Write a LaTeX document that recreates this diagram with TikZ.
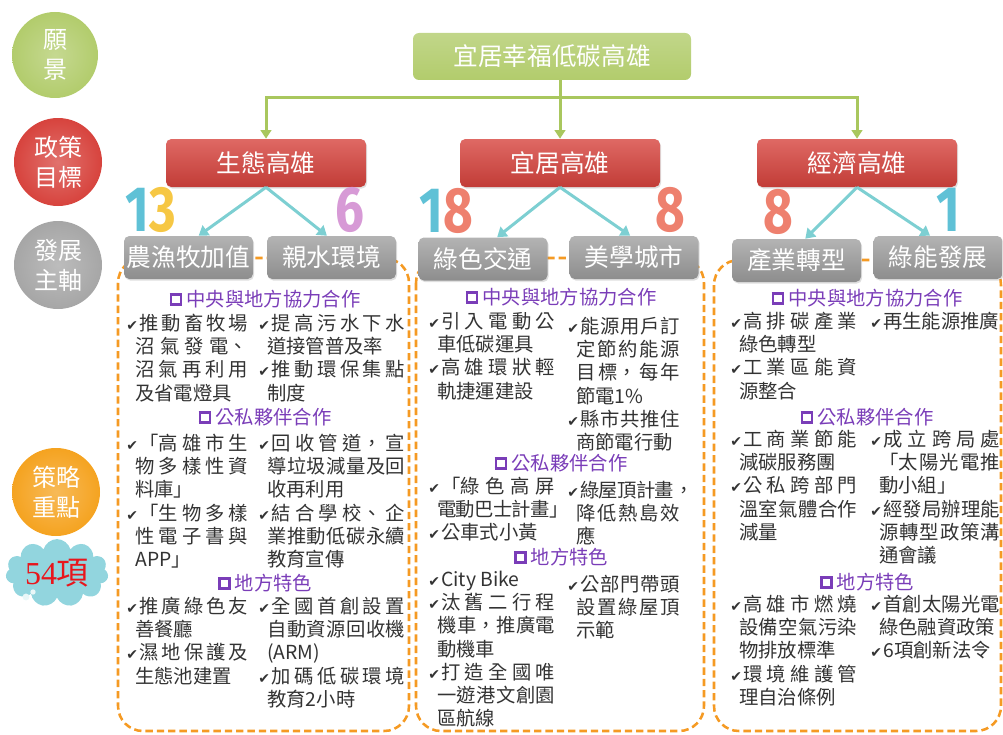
\documentclass[tikz,border=0pt]{standalone}
\usepackage{fontspec}
\usepackage{xcolor}
\setmainfont{Noto Sans CJK TC}
\newfontfamily\symfont{DejaVu Sans}
\newfontfamily\numfont{Fira Sans}[FakeStretch=0.8]
\newfontfamily\cloudfont{Liberation Serif}
\usetikzlibrary{arrows.meta,shadows,shapes.symbols}

\XeTeXlinebreaklocale "zh"
\XeTeXlinebreakskip=0pt plus 4pt minus 0.5pt
\XeTeXlinebreakpenalty=10000

\definecolor{visgreen}{HTML}{B2CC6C}
\definecolor{linegreen}{HTML}{A9C75E}
\definecolor{goalred}{HTML}{D7433D}
\definecolor{axisgray}{HTML}{A6A6A6}
\definecolor{keyorange}{HTML}{F5A320}
\definecolor{dashorange}{HTML}{F59A23}
\definecolor{arrowblue}{HTML}{7DCFD2}
\definecolor{hdpurple}{HTML}{7A3DB8}
\definecolor{bodytext}{HTML}{333333}
\definecolor{cloudblue}{HTML}{92D5DE}
\definecolor{cloudred}{HTML}{E8161C}
\definecolor{numblue}{HTML}{5FC1D6}
\definecolor{numyellow}{HTML}{F6C744}
\definecolor{numpink}{HTML}{D79AD6}
\definecolor{numsalmon}{HTML}{EE806E}

\newcommand\chk{\makebox[9.75pt][l]{\symfont\fontsize{10.5pt}{10.5pt}\selectfont ✔}}
\newcommand\itm{\par\noindent\hangindent=6.75pt\hangafter=1\relax\chk}
\newcommand\sq{\raisebox{2.6pt}{\fboxsep=0pt\fboxrule=2.1pt\fbox{\rule{0pt}{5.4pt}\rule{5.4pt}{0pt}}}\hspace{3pt}}
\newcommand\coltext{\fontsize{14.5pt}{17.4pt}\selectfont}
\newcommand\boxtext{\fontsize{18.5pt}{22pt}\selectfont}

\begin{document}
\begin{tikzpicture}[x=0.75pt, y=-0.75pt,
  rowtag/.style={circle, minimum size=66pt, inner sep=0pt, align=center, text=white,
    font=\fontsize{18pt}{22.5pt}\selectfont, inner color=#1!75!white, outer color=#1},
  visionbox/.style={rounded corners=4.5pt, minimum width=208.5pt, minimum height=35.25pt,
    inner sep=0pt, top color=visgreen!80!white, bottom color=visgreen, text=white, font=\boxtext},
  goalbox/.style={rounded corners=4pt, minimum width=150pt, minimum height=36pt, inner sep=0pt,
    top color=goalred!80!white, bottom color=goalred!90!black, text=white, font=\boxtext,
    drop shadow={opacity=0.25, shadow xshift=0.8pt, shadow yshift=-1.2pt}},
  axisbox/.style={rounded corners=4pt, minimum width=96.75pt, minimum height=32.25pt, inner sep=0pt,
    top color=axisgray!85!white, bottom color=axisgray!85!black, text=white, font=\boxtext,
    drop shadow={opacity=0.25, shadow xshift=0.8pt, shadow yshift=-1.2pt}},
  dashframe/.style={draw=dashorange, line width=1.9pt, dash pattern=on 5.5pt off 3pt,
    rounded corners=18.75pt},
  greenarrow/.style={draw=linegreen, line width=2.25pt, -{Triangle[width=8pt,length=6.5pt]}},
  bluearrow/.style={draw=arrowblue, line width=2.25pt, -{Triangle[width=9pt,length=7pt]}},
  bignum/.style={inner sep=0pt, font=\numfont\bfseries\fontsize{48pt}{48pt}\selectfont},
  colnote/.style={anchor=north west, inner sep=0pt, text width=#1, align=justify,
    font=\coltext, text=bodytext},
  headnote/.style={inner sep=0pt, text=hdpurple, font=\coltext}]
  \useasboundingbox (0,0) rectangle (1003,735);

  % Row tags on the left
  \node[rowtag=visgreen, minimum size=64.5pt] (tagvision) at (55,55) {願\\景};
  \node[rowtag=goalred] (taggoal) at (58,162) {政策\\目標};
  \node[rowtag=axisgray] (tagaxis) at (58,265) {發展\\主軸};
  \node[rowtag=keyorange] (tagkey) at (56,492) {策略\\重點};
  \node[cloud, cloud puffs=11, aspect=1.8, minimum width=77pt, minimum height=43pt,
    fill=cloudblue, inner sep=0pt, text=cloudred,
    font=\fontsize{24pt}{24pt}\selectfont] (tagcount) at (57,573) {{\cloudfont 54}項};
  % little bubbles at the cloud's foot
  \fill[white!80!cloudblue] (26,597) circle (2.6pt);
  \fill[white!80!cloudblue] (33,592) circle (2pt);

  % Dashed frames round each group
  \draw[dashframe] (118,258) rectangle (409,731);
  \draw[dashframe] (416,258) rectangle (704,731);
  \draw[dashframe] (714,260) rectangle (1001,731);

  % Vision and goals
  \node[visionbox] (vision) at (552,56.5) {宜居幸福低碳高雄};
  \node[goalbox] (eco) at (266,163) {生態高雄};
  \node[goalbox] (live) at (560,163) {宜居高雄};
  \node[goalbox] (econ) at (857,163) {經濟高雄};
  \coordinate (hub) at (560,98);
  \draw[greenarrow] (vision.south -| live.north) -- (live.north);
  \draw[greenarrow] (hub) -| (eco.north);
  \draw[greenarrow] (hub) -| (econ.north);

  % Main axes
  \node[axisbox] (agri) at (188.5,257.5) {農漁牧加值};
  \node[axisbox] (water) at (331.5,257.5) {親水環境};
  \node[axisbox] (traffic) at (483,259) {綠色交通};
  \node[axisbox] (city) at (634,257.5) {美學城市};
  \node[axisbox] (industry) at (796.5,260.5) {產業轉型};
  \node[axisbox] (energy) at (938,257.5) {綠能發展};
  \draw[bluearrow] (eco.south) -- (agri.65);
  \draw[bluearrow] (eco.south) -- (water.102);
  \draw[bluearrow] (live.south) -- (traffic.57);
  \draw[bluearrow] (live.south) -- (city.100);
  \draw[bluearrow] (econ.south) -- (industry.68);
  \draw[bluearrow] (econ.south) -- (energy.110);

  % Counts
  \node[bignum] (agrinum) at (151,210) {\textcolor{numblue}{1}\textcolor{numyellow}{3}};
  \node[bignum, text=numpink] (waternum) at (350,210) {6};
  \node[bignum] (trafficnum) at (446,211) {\textcolor{numblue}{1}\textcolor{numsalmon}{8}};
  \node[bignum, text=numsalmon] (citynum) at (670,210) {8};
  \node[bignum, text=numsalmon] (industrynum) at (778,212) {8};
  \node[bignum, text=numblue] (energynum) at (948,210) {1};

  % Ecological group
  \node[headnote] (ecoH1) at (265,299) {\sq 中央與地方協力合作};
  \node[colnote=91.5pt] (ecoA1) at (126,307) {\itm 推動畜牧場\linebreak 沼氣發電、\linebreak 沼氣再利用\linebreak 及省電燈具\par};
  \node[colnote=110.25pt] (ecoB1) at (258,307) {\itm 提高污水下水\linebreak 道接管普及率
    \itm 推動環保集點\linebreak 制度\par};
  \node[headnote] (ecoH2) at (265,417) {\sq 公私夥伴合作};
  \node[colnote=91.5pt] (ecoA2) at (126,427) {\itm 「高雄市生\linebreak 物多樣性資\linebreak 料庫」
    \itm 「生物多樣\linebreak 性電子書與\linebreak APP」\par};
  \node[colnote=110.25pt] (ecoB2) at (258,427) {\itm 回收管道，宣\linebreak 導垃圾減量及回\linebreak 收再利用
    \itm 結合學校、企\linebreak 業推動低碳永續\linebreak 教育宣傳\par};
  \node[headnote] (ecoH3) at (265,583) {\sq 地方特色};
  \node[colnote=91.5pt] (ecoA3) at (126,590) {\itm 推廣綠色友\linebreak 善餐廳
    \itm 濕地保護及\linebreak 生態池建置\par};
  \node[colnote=110.25pt] (ecoB3) at (258,590) {\itm 全國首創設置\linebreak 自動資源回收機\linebreak (ARM)
    \itm 加碼低碳環境\linebreak 教育2小時\par};

  % Livable group
  \node[headnote] (liveH1) at (561,297) {\sq 中央與地方協力合作};
  \node[colnote=95.25pt] (liveA1) at (428,305) {\itm 引入電動公\linebreak 車低碳運具
    \itm 高雄環狀輕\linebreak 軌捷運建設\par};
  \node[colnote=84.75pt] (liveB1) at (567,310) {\itm 能源用戶訂\linebreak 定節約能源\linebreak 目標，每年\linebreak 節電1\%
    \itm 縣市共推住\linebreak 商節電行動\par};
  \node[headnote] (liveH2) at (561,463) {\sq 公私夥伴合作};
  \node[colnote=95.25pt] (liveA2) at (428,470) {\itm 「綠色高屏\linebreak 電動巴士計畫」
    \itm 公車式小黃\par};
  \node[colnote=84.75pt] (liveB2) at (567,474) {\itm 綠屋頂計畫，\linebreak 降低熱島效\linebreak 應\par};
  \node[headnote] (liveH3) at (561,557) {\sq 地方特色};
  \node[colnote=95.25pt] (liveA3) at (428,563) {\itm City Bike
    \itm 汰舊二行程\linebreak 機車，推廣電\linebreak 動機車
    \itm 打造全國唯\linebreak 一遊港文創園\linebreak 區航線\par};
  \node[colnote=84.75pt] (liveB3) at (567,568) {\itm 公部門帶頭\linebreak 設置綠屋頂\linebreak 示範\par};

  % Economic group
  \node[headnote] (econH1) at (867,298) {\sq 中央與地方協力合作};
  \node[colnote=95.25pt] (econA1) at (730,305) {\itm 高排碳產業\linebreak 綠色轉型
    \itm 工業區能資\linebreak 源整合\par};
  \node[colnote=97.5pt] (econB1) at (870,305) {\itm 再生能源推廣\par};
  \node[headnote] (econH2) at (867,417) {\sq 公私夥伴合作};
  \node[colnote=95.25pt] (econA2) at (730,423) {\itm 工商業節能\linebreak 減碳服務團
    \itm 公私跨部門\linebreak 溫室氣體合作\linebreak 減量\par};
  \node[colnote=97.5pt] (econB2) at (870,423) {\itm 成立跨局處\linebreak 「太陽光電推\linebreak 動小組」
    \itm 經發局辦理能\linebreak 源轉型政策溝\linebreak 通會議\par};
  \node[headnote] (econH3) at (867,582) {\sq 地方特色};
  \node[colnote=95.25pt] (econA3) at (730,588) {\itm 高雄市燃燒\linebreak 設備空氣污染\linebreak 物排放標準
    \itm 環境維護管\linebreak 理自治條例\par};
  \node[colnote=97.5pt] (econB3) at (870,588) {\itm 首創太陽光電\linebreak 綠色融資政策
    \itm 6項創新法令\par};
\end{tikzpicture}
\end{document}
